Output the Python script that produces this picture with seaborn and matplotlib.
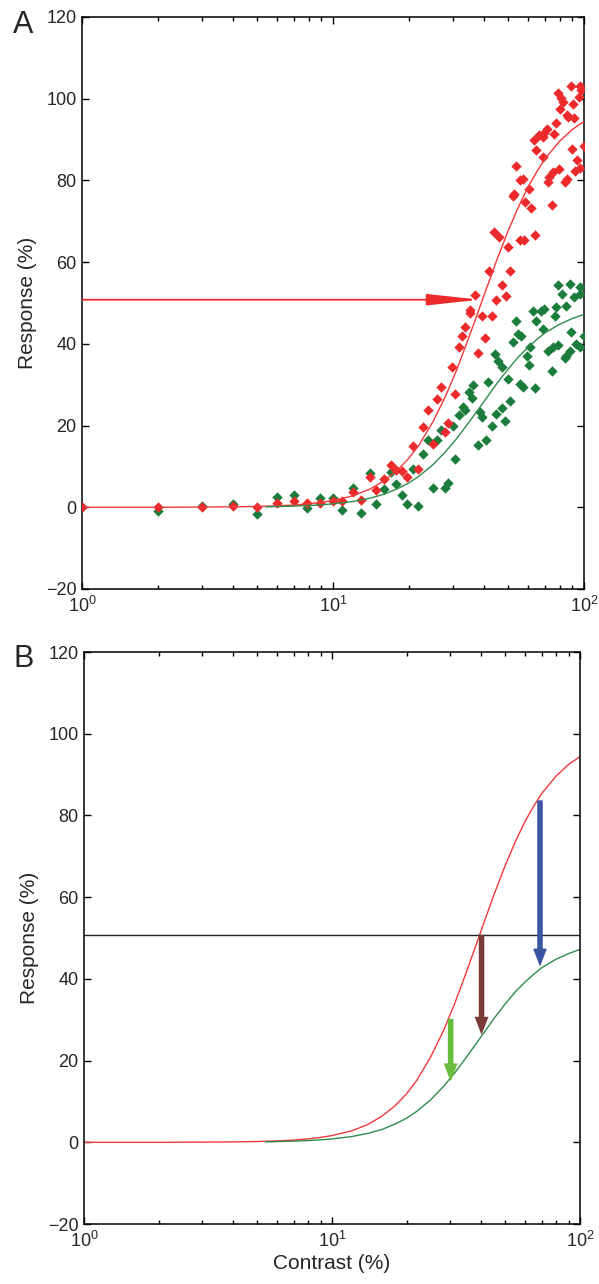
import matplotlib
matplotlib.use("Agg")
import matplotlib.pyplot as plt
import seaborn as sns
import pandas as pd

# --- data ---
red_contrast = [1, 2, 3, 4, 5, 6, 7, 7.9, 8.9, 10, 10.9, 12, 12.9, 14, 14.8, 15.9, 17, 17.9,
                18.8, 19.8, 20.9, 21.9, 22.8, 24, 25, 25.9, 27, 27.9, 28.8, 29.8, 30.6, 31.9,
                32.6, 33.7, 35.1, 35.3, 36.8, 37.7, 39.2, 40.5, 41.8, 42.9, 43.9, 44.6, 45.8,
                47.3, 48.8, 49.9, 50.7, 52.2, 52.7, 53.7, 55.5, 55.5, 56.9, 57.5, 58, 60.6,
                61.5, 63.1, 63.8, 64.6, 66, 68.6, 68.6, 69.6, 71.1, 71.9, 72.5, 74.9, 75.4,
                76.1, 77.5, 78.5, 79.3, 80.1, 81.2, 82.3, 84, 85.2, 85.7, 86.3, 88.5, 89.3,
                90.7, 91.4, 91.8, 93.9, 95.3, 96, 96, 97.5, 100]
red_response = [0, 0, 0, 0.3, 0, 1.1, 1.5, 1.0, 1.0, 1.5, 1.6, 3.7, 1.8, 7.5, 4.3, 6.9, 10.4, 9,
                8.8, 7.5, 14.9, 9.3, 19.6, 23.7, 15.5, 26.5, 29.5, 18.4, 20.6, 34.3, 27.8, 39.2,
                42, 44, 48.2, 47.5, 52, 37.8, 46.9, 41.5, 57.7, 46.7, 67.3, 50.8, 66.1,
                54.5, 51.6, 63.8, 57.9, 76.3, 76.7, 83.4, 80.1, 65.5, 80.4, 65.5, 74.6, 77.9,
                73.2, 89.9, 66.7, 87.5, 91.2, 90.7, 85.8, 91.5, 92.6, 79.6, 80.8, 74, 82,
                91.4, 94, 101.3, 82.8, 97.5, 100.2, 99.2, 79.6, 96.1, 80.4, 95.5, 103, 87.7,
                98.8, 95.3, 82.4, 84.9, 100.4, 103, 83.1, 102, 88.3]

green_contrast = [1, 2, 3, 4, 5, 6, 7, 7.9, 8.9, 10, 10.9, 12, 12.9, 14, 14.9, 15.9, 17, 17.9,
                  18.8, 19.8, 20.9, 21.9, 22.8, 24, 25, 25.9, 26.9, 27.9, 28.8, 30, 30.6, 31.9,
                  32.9, 33.6, 34.7, 35.7, 36.2, 37.7, 38.5, 39.2, 40.7, 41.5, 42.9, 44.2, 44.6,
                  45.6, 47, 47, 48.5, 49.9, 50.7, 52.2, 53.7, 54.6, 55.5, 56.3, 57.2, 59.2,
                  60.6, 60.9, 62.6, 63.8, 64.6, 67.5, 68.6, 69.6, 71.9, 74.9, 75.5, 76.5, 77.7,
                  78.5, 78.9, 82, 84, 85, 85.1, 87.6, 87.6, 88.9, 91.4, 93.1, 96, 96, 96, 100]
green_response = [0, -1, 0.3, 0.8, -1.7, 2.4, 2.9, -0.2, 2.2, 2.2, -0.7, 4.6, -1.3, 8.3, 0.8, 4.5, 8.7, 5.7,
                  3.1, 0.7, 9.4, 0.3, 13.1, 16.5, 4.6, 16.5, 18.9, 4.6, 6.0, 20, 11.7, 22.7,
                  24.5, 23.8, 28.1, 26.8, 29.8, 15.3, 23.3, 22, 16.5, 30.6, 20, 37.5, 22.8,
                  35.9, 34.4, 24.3, 21, 31.3, 25.9, 40.4, 45.7, 42.4, 30.2, 41.8, 29.5, 37.1,
                  34.7, 39.3, 48.1, 29.2, 45.7, 48.1, 43.7, 48.4, 38.3, 33.3, 39.2, 46.7, 48.9,
                  54.3, 39.6, 52.2, 36.6, 36.9, 49.3, 54.7, 38.3, 42.8, 51.4, 40, 54, 52.2, 39.2, 42]

# fitted curves, read at a set of contrasts
fit_contrast = [1, 2, 3, 4, 5, 6, 7, 8, 9, 10, 12, 14, 16, 18, 20, 22, 25, 28, 31, 35,
                40, 45, 50, 55, 60, 65, 70, 80, 90, 100]
red_fit = [0, 0, 0.05, 0.1, 0.2, 0.35, 0.55, 0.85, 1.2, 1.65, 2.8, 4.4, 6.5, 9.0, 11.9, 15.2,
           20.9, 27.0, 33.4, 42.0, 51.9, 60.6, 67.8, 73.7, 78.5, 82.2, 85.3, 89.6, 92.5, 94.4]
green_fit_contrast = [5.4, 6, 7, 8, 9, 10, 12, 14, 16, 18, 20, 22, 25, 28, 31, 35,
                      40, 45, 50, 55, 60, 65, 70, 80, 90, 100]
green_fit = [0.1, 0.18, 0.28, 0.43, 0.6, 0.83, 1.4, 2.2, 3.2, 4.5, 5.9, 7.6, 10.4, 13.5, 16.7, 21.0,
             25.9, 30.3, 33.9, 36.9, 39.2, 41.1, 42.7, 44.8, 46.2, 47.2]

criterion = 50.8          # horizontal response level
arrow_contrast = [30.1, 40.1, 69]
arrow_top = [30.2, 50.8, 83.7]
arrow_tip = [14.9, 26.3, 43.0]
arrow_colors = ["#69bd3c", "#7b3a3a", "#3a55a2"]

RED = "#ec2a2c"
GREEN = "#1c7c3c"
RED_LINE = "#f03a3a"
GREEN_LINE = "#2f8c4c"

sns.set_style("ticks")
plt.rcParams["font.family"] = ["Liberation Sans", "DejaVu Sans"]
plt.rcParams["mathtext.fontset"] = "custom"
plt.rcParams["mathtext.rm"] = "Liberation Sans"


def style_axes(ax):
    ax.set_xscale("log")
    ax.set_xlim(1, 100)
    ax.set_ylim(-20, 120)
    ax.set_yticks(range(-20, 121, 20))
    ax.tick_params(which="both", direction="in", top=True, right=True, width=1, color="black")
    ax.tick_params(which="major", length=5, labelsize=13, pad=4)
    ax.tick_params(which="minor", length=3)
    ax.tick_params(axis="x", which="major", pad=5)
    for sp in ax.spines.values():
        sp.set_visible(True)
        sp.set_linewidth(1.1)
        sp.set_color("black")
    ax.set_xlabel("")
    ax.set_ylabel("Response (%)", fontsize=15, labelpad=6)


fig = plt.figure(figsize=(5.99, 12.84), dpi=100)
axA = fig.add_axes([0.1369, 0.5413, 0.838, 0.4455])
axB = fig.add_axes([0.1402, 0.0467, 0.828, 0.4455])

# --- panel A ---
red_df = pd.DataFrame({"contrast": red_contrast, "response": red_response})
green_df = pd.DataFrame({"contrast": green_contrast, "response": green_response})

axA.set_xscale("log")
sns.scatterplot(data=green_df, x="contrast", y="response", color=GREEN, marker="D",
                s=28, linewidth=0, ax=axA, zorder=3)
sns.scatterplot(data=red_df, x="contrast", y="response", color=RED, marker="D",
                s=28, linewidth=0, ax=axA, zorder=3)
sns.lineplot(x=fit_contrast, y=red_fit, color=RED_LINE, lw=1, ax=axA, zorder=4)
sns.lineplot(x=green_fit_contrast, y=green_fit, color=GREEN_LINE, lw=1, ax=axA, zorder=4)
axA.annotate("", xy=(38.3, criterion), xytext=(1, criterion),
             arrowprops=dict(arrowstyle="-|>,head_length=3.2,head_width=0.35",
                             color=RED, lw=1.3, shrinkA=0, shrinkB=0), zorder=5)
style_axes(axA)

# --- panel B ---
axB.set_xscale("log")
sns.lineplot(x=fit_contrast, y=red_fit, color=RED_LINE, lw=1, ax=axB)
sns.lineplot(x=green_fit_contrast, y=green_fit, color=GREEN_LINE, lw=1, ax=axB)
axB.axhline(criterion, color="#222222", lw=1)
for c, top, tip, col in zip(arrow_contrast, arrow_top, arrow_tip, arrow_colors):
    axB.annotate("", xy=(c, tip), xytext=(c, top),
                 arrowprops=dict(arrowstyle="simple,head_length=1.3,head_width=1.0,tail_width=0.4",
                                 color=col, mutation_scale=10, shrinkA=0, shrinkB=0, lw=0))
style_axes(axB)
axB.set_xlabel("Contrast (%)", fontsize=15, labelpad=2)

fig.text(13 / 599, 1 - 33 / 1284, "A", fontsize=22, va="baseline", ha="left")
fig.text(13 / 599, 1 - 667 / 1284, "B", fontsize=22, va="baseline", ha="left")

fig.savefig("out.png", dpi=100)
